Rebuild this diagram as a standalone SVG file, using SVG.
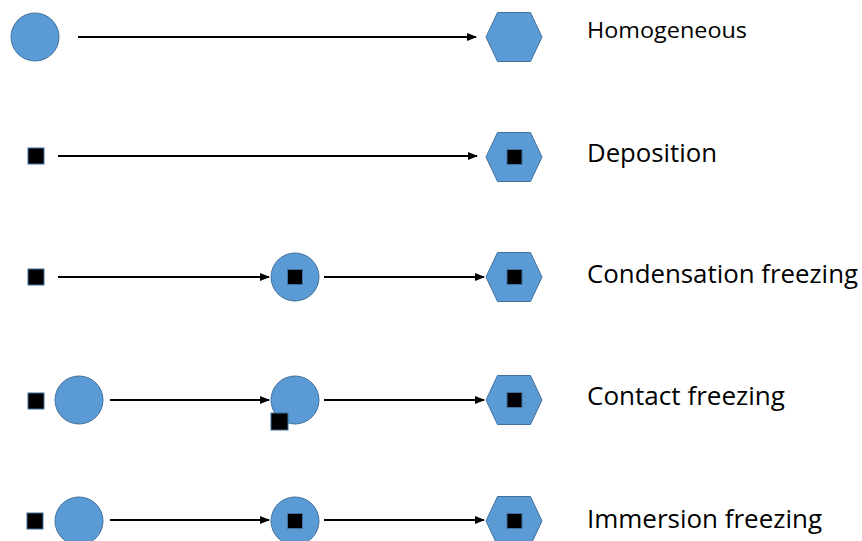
<svg xmlns="http://www.w3.org/2000/svg" width="862" height="541" viewBox="0 0 862 541">
<style>
.c{fill:#5B9BD5;stroke:#41719C;stroke-width:1}
.s{fill:#000;stroke:#41719C;stroke-width:1}
.l{stroke:#000;stroke-width:1.8;fill:none;marker-end:url(#a)}
text{font-family:"Open Sans","Liberation Sans",sans-serif;font-size:25px;fill:#000}
</style>
<defs>
<marker id="a" markerWidth="10" markerHeight="8" refX="9" refY="4" orient="auto" markerUnits="userSpaceOnUse">
<path d="M0,0 L10,4 L0,8 Z" fill="#000"/>
</marker>
<path id="hex" d="M-28,0 L-16.5,-24.5 L16.5,-24.5 L28,0 L16.5,24.5 L-16.5,24.5 Z"/>
</defs>
<rect width="862" height="541" fill="#fff"/>
<g id="connectors">
<line class="l" x1="78" y1="37" x2="476" y2="37"/>
<line class="l" x1="58" y1="156" x2="477" y2="156"/>
<line class="l" x1="58" y1="277" x2="269" y2="277"/>
<line class="l" x1="324" y1="277" x2="484" y2="277"/>
<line class="l" x1="110" y1="400" x2="269" y2="400"/>
<line class="l" x1="324" y1="400" x2="484" y2="400"/>
<line class="l" x1="110" y1="520" x2="269" y2="520"/>
<line class="l" x1="324" y1="520" x2="484" y2="520"/>
</g>
<g id="row1">
<circle class="c" cx="35" cy="37" r="24"/>
<use href="#hex" class="c" x="514" y="37"/>
<text x="587" y="38" style="font-size:21px" textLength="160" lengthAdjust="spacingAndGlyphs">Homogeneous</text>
</g>
<g id="row2">
<rect class="s" x="28" y="148" width="16" height="16"/>
<use href="#hex" class="c" x="514" y="157"/>
<rect class="s" x="507" y="149.5" width="15" height="15"/>
<text x="587" y="162" textLength="130" lengthAdjust="spacingAndGlyphs">Deposition</text>
</g>
<g id="row3">
<rect class="s" x="28" y="269" width="16" height="16"/>
<circle class="c" cx="295" cy="277" r="24"/>
<rect class="s" x="287.5" y="269.5" width="15" height="15"/>
<use href="#hex" class="c" x="514" y="277"/>
<rect class="s" x="507" y="269.5" width="15" height="15"/>
<text x="587" y="283" textLength="271" lengthAdjust="spacingAndGlyphs">Condensation freezing</text>
</g>
<g id="row4">
<rect class="s" x="28" y="393" width="16" height="16"/>
<circle class="c" cx="79" cy="400" r="24"/>
<circle class="c" cx="295" cy="400" r="24"/>
<rect class="s" x="271" y="413" width="17" height="17"/>
<use href="#hex" class="c" x="514" y="400"/>
<rect class="s" x="507" y="392.5" width="15" height="15"/>
<text x="587" y="405" textLength="198" lengthAdjust="spacingAndGlyphs">Contact freezing</text>
</g>
<g id="row5">
<rect class="s" x="27" y="513" width="16" height="16"/>
<circle class="c" cx="79" cy="521" r="24"/>
<circle class="c" cx="295" cy="521" r="24"/>
<rect class="s" x="287.5" y="513.5" width="15" height="15"/>
<use href="#hex" class="c" x="514" y="521"/>
<rect class="s" x="507" y="513.5" width="15" height="15"/>
<text x="587" y="528" textLength="235" lengthAdjust="spacingAndGlyphs">Immersion freezing</text>
</g>
</svg>
